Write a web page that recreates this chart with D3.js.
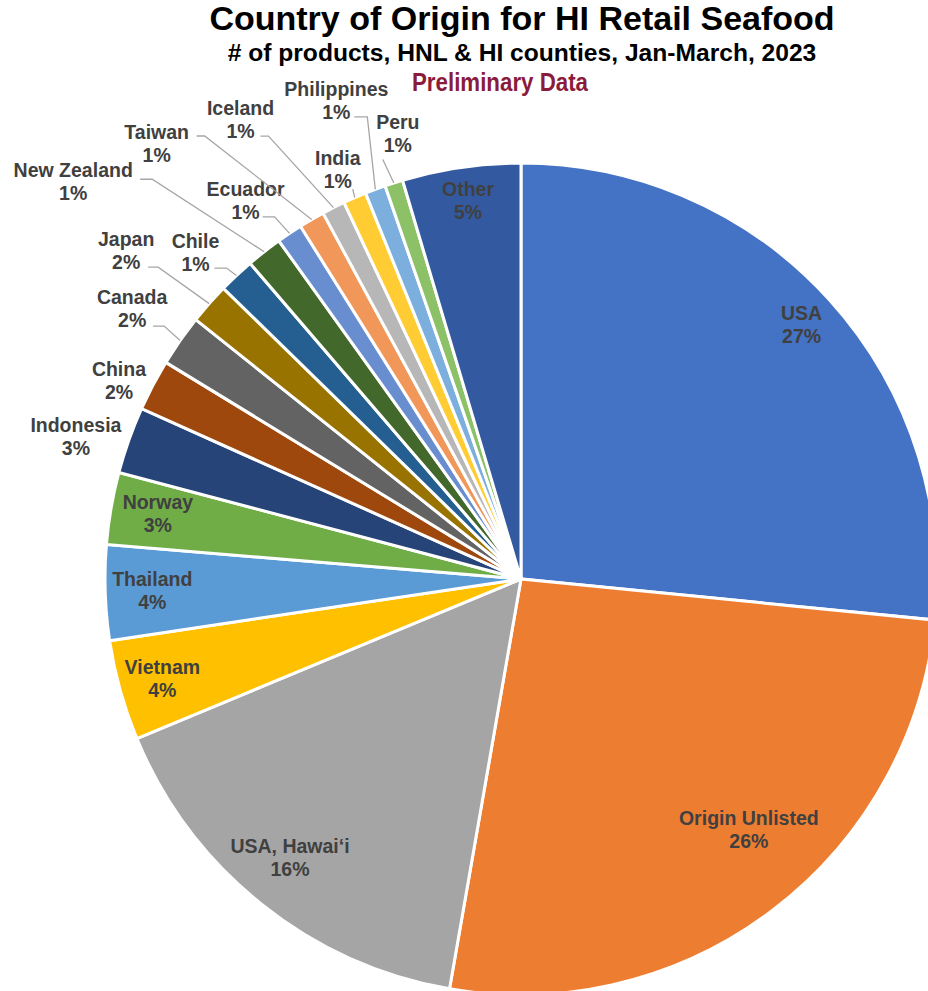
<!DOCTYPE html>
<html>
<head>
<meta charset="utf-8">
<script src="https://cdn.jsdelivr.net/npm/d3@7"></script>
<style>
  html, body { margin: 0; padding: 0; background: #fff; }
  svg { display: block; }
</style>
</head>
<body>
<svg id="chart" width="928" height="991"></svg>
<script>
// Country of origin, share of retail seafood products (percent)
const countries = ["USA", "Origin Unlisted", "USA, Hawai\u2018i", "Vietnam", "Thailand", "Norway",
  "Indonesia", "China", "Canada", "Japan", "Chile", "New Zealand", "Ecuador", "Taiwan",
  "Iceland", "India", "Philippines", "Peru", "Other"];
const shares = [26.6, 26.2, 16.0, 3.9, 3.7, 2.8, 2.6, 2.0, 2.0, 1.6, 1.4, 1.4, 1.0, 1.0,
  0.9, 0.9, 0.8, 0.7, 4.6];
const sliceColors = ["#4472C4", "#ED7D31", "#A5A5A5", "#FFC000", "#5B9BD5", "#70AD47",
  "#264478", "#9E480E", "#636363", "#997300", "#255E91", "#43682B", "#698ED0", "#F1975A",
  "#B7B7B7", "#FFCD33", "#7CAFDD", "#8CC168", "#335AA1"];

const titleText = "Country of Origin for HI Retail Seafood";
const subtitleText = "# of products, HNL & HI counties, Jan-March, 2023";
const noteText = "Preliminary Data";

// Label placement: "in" labels sit inside the slice at a fraction of the radius,
// "out" labels are offset from the slice's outer edge, with an optional leader line.
const labelLayout = {
  "USA": { mode: "in", rf: 0.91, da: 0 },
  "Origin Unlisted": { mode: "in", rf: 0.815, da: -5 },
  "USA, Hawai\u2018i": { mode: "in", rf: 0.87, da: 1 },
  "Vietnam": { mode: "in", rf: 0.895, da: 0 },
  "Thailand": { mode: "in", rf: 0.887, da: 0 },
  "Norway": { mode: "in", rf: 0.887, da: 0.4 },
  "Other": { mode: "in", rf: 0.918, da: 0.3 },
  "Indonesia": { mode: "out", dx: -53, dy: -3 },
  "China": { mode: "out", dx: -34, dy: -4 },
  "Canada": { mode: "out", dx: -48, dy: -32, lead: [21, 6, 11] },
  "Japan": { mode: "out", dx: -83, dy: -53, lead: [22, 5, 10] },
  "Chile": { mode: "out", dx: -41, dy: -23, lead: [19, 4, 12] },
  "New Zealand": { mode: "out", dx: -191, dy: -70, lead: [67, -14, 12] },
  "Ecuador": { mode: "out", dx: -44, dy: -33, lead: [17, 5, 12] },
  "Taiwan": { mode: "out", dx: -155, dy: -76, lead: [40, -19, 8] },
  "Iceland": { mode: "out", dx: -93, dy: -88, lead: [20, 5, 8] },
  "India": { mode: "out", dx: -17, dy: -28, lead: [15, 8, 0] },
  "Philippines": { mode: "out", dx: -39, dy: -89, lead: [18, 5, 13] },
  "Peru": { mode: "out", dx: 4, dy: -49, lead: [-15, 14, 0] }
};

const W = 928, H = 991;
const cx = 521, cy = 579, R = 416;
const lineGap = 23;
const fontStack = "'Liberation Sans', Arial, Helvetica, sans-serif";

const data = countries.map((c, i) => ({ name: c, value: shares[i], color: sliceColors[i] }));
const total = d3.sum(data, d => d.value);
const pct = d3.format(".0%");

const svg = d3.select("#chart");

// Titles
svg.append("text")
  .attr("x", 522).attr("y", 30)
  .attr("text-anchor", "middle")
  .style("font-family", fontStack).style("font-weight", "bold").style("font-size", "34px")
  .attr("fill", "#000")
  .text(titleText);

svg.append("text")
  .attr("x", 522).attr("y", 61)
  .attr("text-anchor", "middle")
  .style("font-family", fontStack).style("font-weight", "bold").style("font-size", "24.6px")
  .attr("fill", "#000")
  .text(subtitleText);

// condensed subtitle note
svg.append("text")
  .attr("x", 500).attr("y", 91)
  .attr("text-anchor", "middle")
  .attr("textLength", 176)
  .attr("lengthAdjust", "spacingAndGlyphs")
  .style("font-family", fontStack)
  .style("font-weight", "bold").style("font-size", "25px")
  .attr("fill", "#8A1B3B")
  .text(noteText);

// Pie
const pie = d3.pie().sort(null).value(d => d.value);
const arc = d3.arc().innerRadius(0).outerRadius(R);
const arcs = pie(data);

const g = svg.append("g").attr("transform", `translate(${cx},${cy})`);

g.selectAll("path.slice")
  .data(arcs)
  .join("path")
  .attr("class", "slice")
  .attr("d", arc)
  .attr("fill", d => d.data.color)
  .attr("stroke", "#fff")
  .attr("stroke-width", 3);

const polar = (a, r) => [r * Math.sin(a), -r * Math.cos(a)];
const deg = Math.PI / 180;

// Labels and leader lines
const labels = g.append("g");
arcs.forEach(d => {
  const lay = labelLayout[d.data.name];
  const mid = (d.startAngle + d.endAngle) / 2;
  let bx, by;
  if (lay.mode === "in") {
    [bx, by] = polar(mid + lay.da * deg, lay.rf * R);
  } else {
    const [ex, ey] = polar(mid, R);
    bx = ex + lay.dx;
    by = ey + lay.dy;
    if (lay.lead) {
      const sx = bx + lay.lead[0];
      const sy = by + lineGap / 2 + lay.lead[1];
      labels.append("path")
        .attr("d", `M${sx},${sy}h${lay.lead[2]}L${ex},${ey}`)
        .attr("fill", "none")
        .attr("stroke", "#A6A6A6")
        .attr("stroke-width", 1.3);
    }
  }
  const t = labels.append("text")
    .attr("text-anchor", "middle")
    .style("font-family", fontStack).style("font-weight", "bold").style("font-size", "19.5px")
    .attr("fill", "#404040");
  t.append("tspan").attr("x", bx).attr("y", by - lineGap / 2).attr("dy", "0.35em").text(d.data.name);
  t.append("tspan").attr("x", bx).attr("y", by + lineGap / 2).attr("dy", "0.35em").text(pct(d.data.value / total));
});
</script>
</body>
</html>
